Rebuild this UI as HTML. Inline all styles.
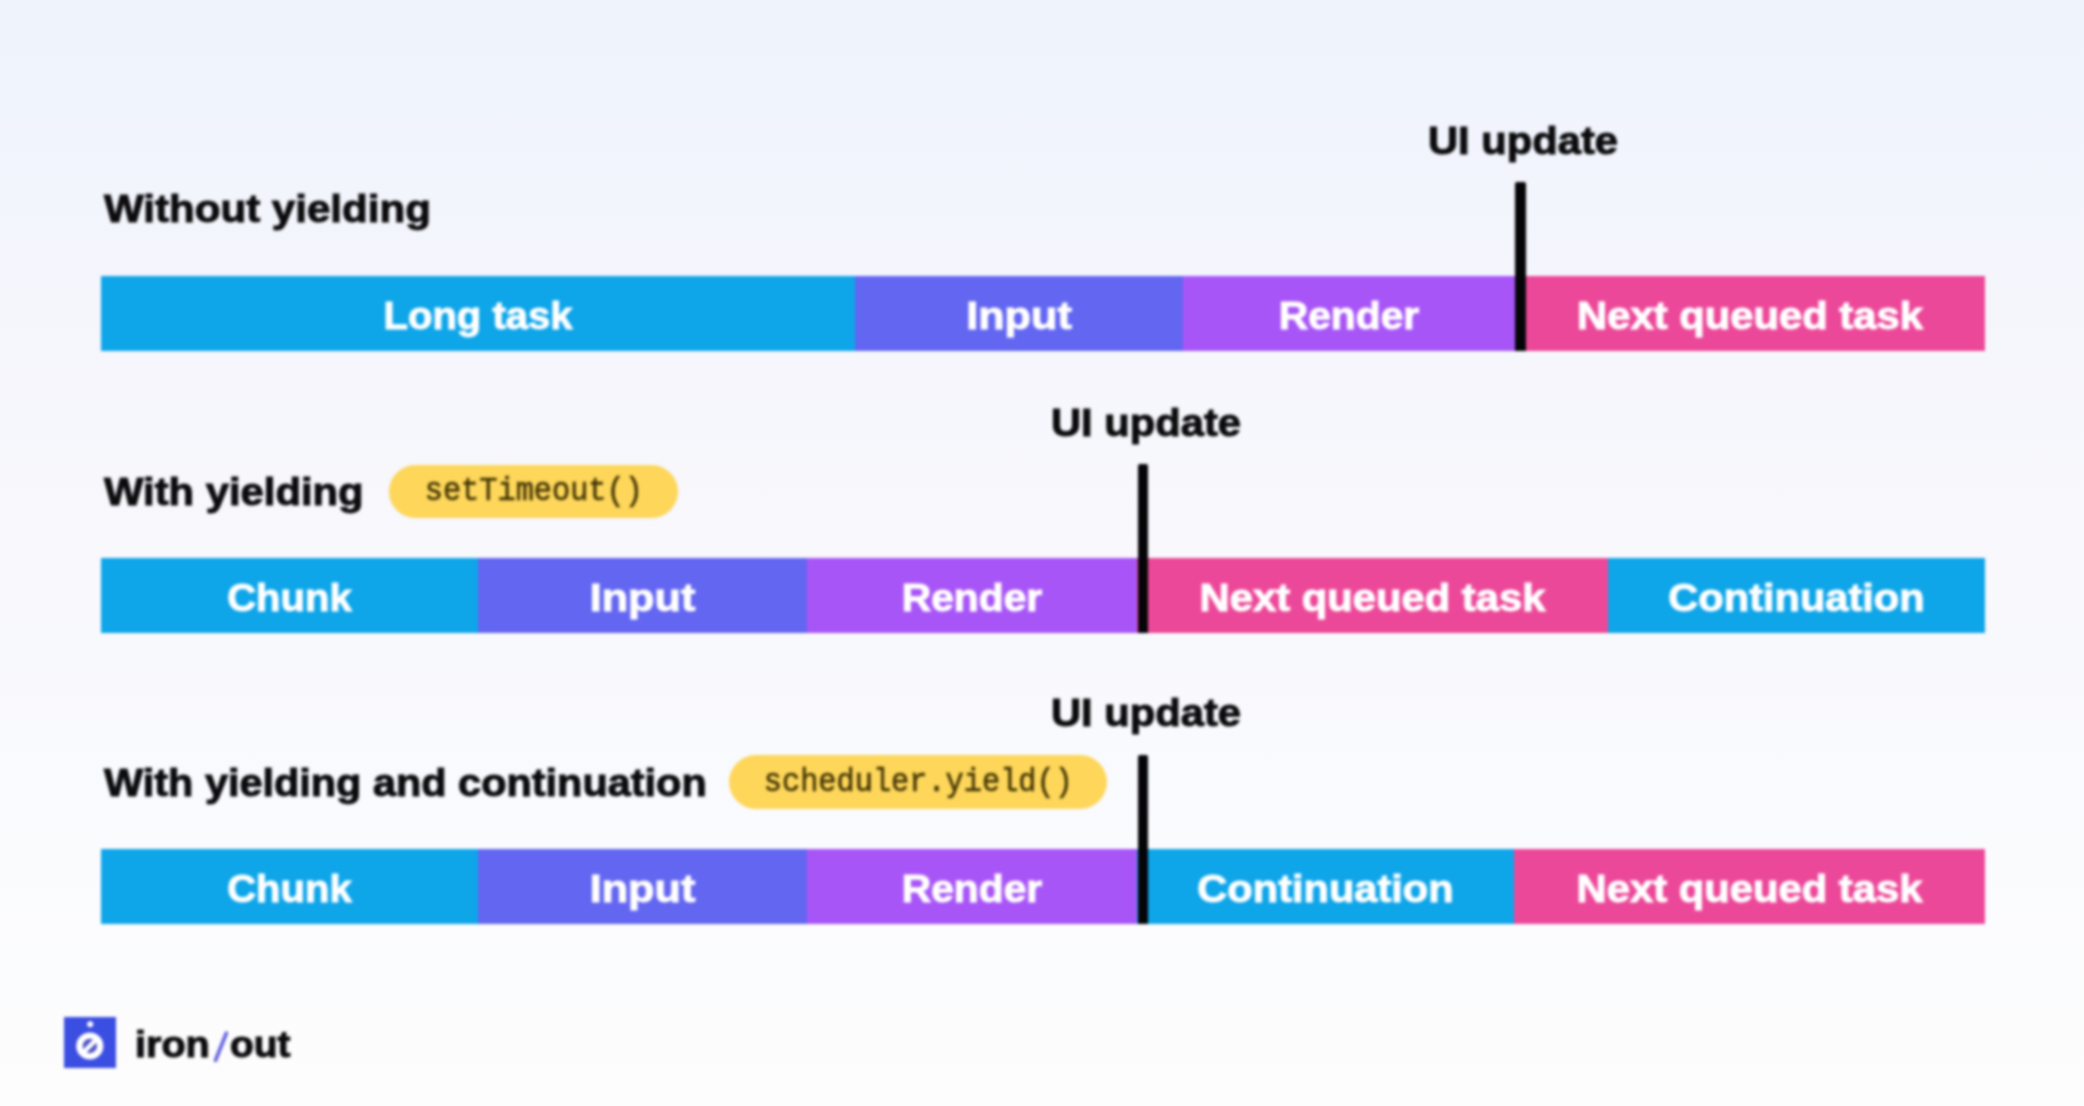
<!DOCTYPE html>
<html>
<head>
<meta charset="utf-8">
<style>
html,body{margin:0;padding:0;}
#wrap{position:absolute;left:0;top:0;width:2084px;height:1106px;filter:blur(1.5px);}
body{width:2084px;height:1106px;overflow:hidden;position:relative;
  background:linear-gradient(180deg,#eef3fc 0px,#f5f6fc 290px,#f8f8fd 550px,#fafbfd 830px,#fdfdfd 1106px);
  font-family:"Liberation Sans",sans-serif;}
.t{position:absolute;white-space:nowrap;font-weight:bold;color:#0b0b0d;line-height:1;font-size:38px;transform-origin:0 0;-webkit-text-stroke:1px #0b0b0d;}
.bar{position:absolute;left:101px;width:1884px;height:75px;}
.seg{position:absolute;top:0;height:100%;color:#fff;font-weight:bold;font-size:38px;line-height:1;-webkit-text-stroke:1px #fff;}
.seg span{position:absolute;left:0;right:0;top:20.5px;text-align:center;white-space:nowrap;display:block;transform-origin:50% 0;}
.line{position:absolute;width:10.5px;background:#050507;border-radius:2px 2px 0 0;}
.pill{position:absolute;background:#fdd65a;border-radius:27px;
  font-family:"Liberation Mono",monospace;font-weight:normal;font-size:33px;color:#433504;line-height:1;-webkit-text-stroke:0.6px #433504;
  display:flex;align-items:center;justify-content:center;}
.pill span{display:inline-block;white-space:nowrap;}
</style>
</head>
<body>
<div id="wrap">
<div class="t" style="left:1427.50px;top:121.70px;transform:scaleX(1.0975);">UI update</div>
<div class="t" style="left:104.00px;top:189.70px;transform:scaleX(1.1073);">Without yielding</div>
<div class="bar" style="top:276px;">
<div class="seg" style="left:0px;width:754px;background:#0ea5e9;"><span style="transform:scaleX(1.0526);">Long task</span></div>
<div class="seg" style="left:754px;width:328px;background:#6366f1;"><span style="transform:scaleX(1.1374);">Input</span></div>
<div class="seg" style="left:1082px;width:332px;background:#a855f7;"><span style="transform:scaleX(1.0730);">Render</span></div>
<div class="seg" style="left:1414px;width:470px;background:#ec4899;"><span style="transform:scaleX(1.0994);">Next queued task</span></div>
</div>
<div class="line" style="left:1515px;top:182px;height:169px;"></div>
<div class="t" style="left:1050.50px;top:403.70px;transform:scaleX(1.0975);">UI update</div>
<div class="t" style="left:104.00px;top:472.70px;transform:scaleX(1.0997);">With yielding</div>
<div class="pill" style="left:389px;top:464.5px;width:289px;height:53px;"><span style="transform:scaleX(0.918);position:relative;top:0.5px;">setTimeout()</span></div>
<div class="bar" style="top:558px;">
<div class="seg" style="left:0px;width:377px;background:#0ea5e9;"><span style="transform:scaleX(1.0543);">Chunk</span></div>
<div class="seg" style="left:377px;width:329px;background:#6366f1;"><span style="transform:scaleX(1.1374);">Input</span></div>
<div class="seg" style="left:706px;width:330px;background:#a855f7;"><span style="transform:scaleX(1.0730);">Render</span></div>
<div class="seg" style="left:1036px;width:471px;background:#ec4899;"><span style="transform:scaleX(1.0994);">Next queued task</span></div>
<div class="seg" style="left:1507px;width:377px;background:#0ea5e9;"><span style="transform:scaleX(1.0943);">Continuation</span></div>
</div>
<div class="line" style="left:1137.8px;top:464px;height:169px;"></div>
<div class="t" style="left:1050.50px;top:694.00px;transform:scaleX(1.0975);">UI update</div>
<div class="t" style="left:104.00px;top:763.70px;transform:scaleX(1.0904);">With yielding and continuation</div>
<div class="pill" style="left:729px;top:755px;width:378px;height:54px;"><span style="transform:scaleX(0.918);position:relative;top:0.5px;">scheduler.yield()</span></div>
<div class="bar" style="top:849px;">
<div class="seg" style="left:0px;width:377px;background:#0ea5e9;"><span style="transform:scaleX(1.0543);">Chunk</span></div>
<div class="seg" style="left:377px;width:329px;background:#6366f1;"><span style="transform:scaleX(1.1374);">Input</span></div>
<div class="seg" style="left:706px;width:330px;background:#a855f7;"><span style="transform:scaleX(1.0730);">Render</span></div>
<div class="seg" style="left:1036px;width:377px;background:#0ea5e9;"><span style="transform:scaleX(1.0943);">Continuation</span></div>
<div class="seg" style="left:1413px;width:471px;background:#ec4899;"><span style="transform:scaleX(1.0994);">Next queued task</span></div>
</div>
<div class="line" style="left:1137.8px;top:755px;height:169px;"></div>
<svg style="position:absolute;left:64px;top:1017px;" width="52" height="51" viewBox="0 0 52 51">
<rect x="0" y="0" width="52" height="51" fill="#3b4ee2"/>
<circle cx="25.8" cy="29" r="13.6" fill="#fff"/>
<circle cx="25.8" cy="29" r="7.2" fill="#4b50c4"/>
<line x1="17" y1="37.8" x2="34.6" y2="20.2" stroke="#fff" stroke-width="4.6"/>
<circle cx="26.2" cy="7.2" r="3" fill="#fff"/>
</svg>
<div class="t" style="font-size:36px;left:135.03px;top:1026.90px;transform:scaleX(1.10);">iron</div>
<div class="t" style="font-size:36px;left:229.94px;top:1026.90px;transform:scaleX(1.08);">out</div>
<svg style="position:absolute;left:205px;top:1025px;" width="30" height="45" viewBox="0 0 30 45"><line x1="21.4" y1="8.2" x2="10.5" y2="35.4" stroke="#5e5ee0" stroke-width="3.6" stroke-linecap="round"/></svg>
</div>
</body>
</html>
